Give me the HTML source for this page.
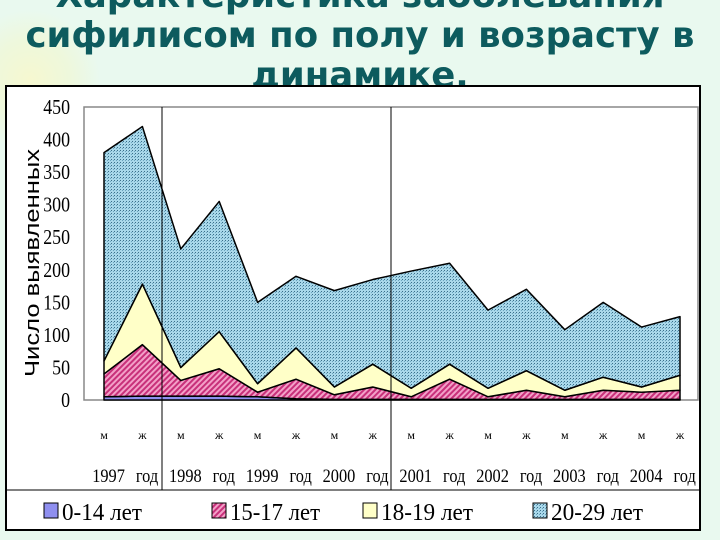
<!DOCTYPE html>
<html><head><meta charset="utf-8">
<style>
html,body{margin:0;padding:0;}
body{width:720px;height:540px;overflow:hidden;background:#e9f9ef;position:relative;font-family:"Liberation Sans",sans-serif;}
#title{position:absolute;left:0;top:-24px;width:720px;text-align:center;color:#0d5b5e;font-weight:bold;font-size:35.5px;line-height:40px;font-family:"DejaVu Sans","Liberation Sans",sans-serif;white-space:nowrap;overflow:hidden;}
#glow{position:absolute;left:0;top:10px;width:110px;height:140px;background:radial-gradient(circle at 30px 70px,#f6f8d0 0%,#eef8dc 40px,rgba(233,249,239,0) 70px);}
svg{position:absolute;left:0;top:0;}
</style></head><body>
<div id="glow"></div>
<div id="title">Характеристика заболевания<br>сифилисом по полу и возрасту в<br>динамике.</div>
<svg id="chart" width="720" height="540">
<defs>
<pattern id="pPink" width="4" height="4" patternUnits="userSpaceOnUse" patternTransform="rotate(45)">
<rect width="4" height="4" fill="#f3a0c8"/><rect width="2" height="4" fill="#c8307a"/></pattern>
<pattern id="pBlue" width="3" height="3" patternUnits="userSpaceOnUse">
<rect width="3" height="3" fill="#a9d8ea"/><rect width="1" height="1" fill="#3a6f8a"/><rect x="2" y="1" width="1" height="1" fill="#6aa4bf"/></pattern>
</defs>
</svg>
<script>
const categories=["м","ж","м","ж","м","ж","м","ж","м","ж","м","ж","м","ж","м","ж"];
const yearLabels=["1997 год","1998 год","1999 год","2000 год","2001 год","2002 год","2003 год","2004 год"];
const s0_14=[5,6,6,6,5,2,1,1,1,1,1,1,1,1,1,1];
const s15_17=[35,79,24,42,7,30,7,19,4,31,4,14,4,14,11,14];
const s18_19=[20,93,20,57,13,48,12,35,13,23,13,30,10,20,8,23];
const s20_29=[320,242,182,200,125,110,148,130,180,155,120,125,93,115,92,90];
const yTicks=[0,50,100,150,200,250,300,350,400,450];
const legendLabels=["0-14 лет","15-17 лет","18-19 лет","20-29 лет"];

const NS="http://www.w3.org/2000/svg";
const svg=document.getElementById('chart');
const X0=104,DX=38.4,Y0=400,KY=293/450;
const xs=i=>X0+i*DX, ys=v=>Y0-v*KY;
function mk(t,a,p){const e=document.createElementNS(NS,t);for(const k in a)e.setAttribute(k,a[k]);(p||svg).appendChild(e);return e;}
function txt(s,a){const e=mk('text',a);e.textContent=s;return e;}

const frame=mk('rect',{x:6,y:86,width:694,height:444,fill:'#fff',stroke:'#000','stroke-width':2});


const plot=mk('rect',{x:84,y:107,width:614,height:293,fill:'#fff',stroke:'#888','stroke-width':1.5});



const series=[s0_14,s15_17,s18_19,s20_29];
const fills=['#8f8fef','url(#pPink)','#ffffc8','url(#pBlue)'];
const names=['area-0-14','area-15-17','area-18-19','area-20-29'];
let base=categories.map(()=>0);
series.forEach((s,k)=>{
  const top=base.map((b,i)=>b+s[i]);
  let d='M'+categories.map((c,i)=>xs(i)+','+ys(top[i])).join(' L');
  for(let i=categories.length-1;i>=0;i--)d+=' L'+xs(i)+','+ys(base[i]);
  d+='Z';
  const p=mk('path',{d:d,fill:fills[k],stroke:'#000','stroke-width':1.5,'stroke-linejoin':'round'});
  
  
  base=top;
});

[162,391].forEach(x=>{
  const l=mk('line',{x1:x,y1:107,x2:x,y2:490,stroke:'#000','stroke-width':1});
  
  
});
const hl=mk('line',{x1:6,y1:490,x2:700,y2:490,stroke:'#000','stroke-width':1});



yTicks.forEach(v=>{
  const t=txt(v,{x:70,y:ys(v)+7,'text-anchor':'end','font-family':'Liberation Serif,serif','font-size':21,fill:'#000',transform:'translate(10.5,0) scale(0.85,1)'});
  
  
});
const yt=txt('Число выявленных',{x:0,y:0,'text-anchor':'middle','font-size':20,fill:'#000',textLength:228,lengthAdjust:'spacingAndGlyphs',transform:'translate(39,263) rotate(-90)'});



categories.forEach((c,i)=>{
  const t=txt(c,{x:xs(i),y:439,'text-anchor':'middle','font-family':'Liberation Serif,serif','font-size':12,fill:'#000'});
  
  
});
yearLabels.forEach((y,j)=>{
  const t=txt(y,{x:(xs(2*j)+xs(2*j+1))/2+2,y:482,'text-anchor':'middle','font-family':'Liberation Serif,serif','font-size':19,fill:'#000',textLength:66,lengthAdjust:'spacingAndGlyphs','word-spacing':'8'});
  
  
});

const lx=[44,212,363,533];
const lf=['#8f8fef','url(#pPink)','#ffffc8','url(#pBlue)'];
legendLabels.forEach((s,k)=>{
  const g=mk('g',{});
  
  
  mk('rect',{x:lx[k],y:503,width:14,height:15,fill:lf[k],stroke:'#000','stroke-width':1},g);
  const t=mk('text',{x:lx[k]+18,y:520,'font-family':'Liberation Serif,serif','font-size':24,fill:'#000',textLength:[80,90,92,92][k],lengthAdjust:'spacingAndGlyphs'},g);
  t.textContent=s;
});
</script>
</body></html>
